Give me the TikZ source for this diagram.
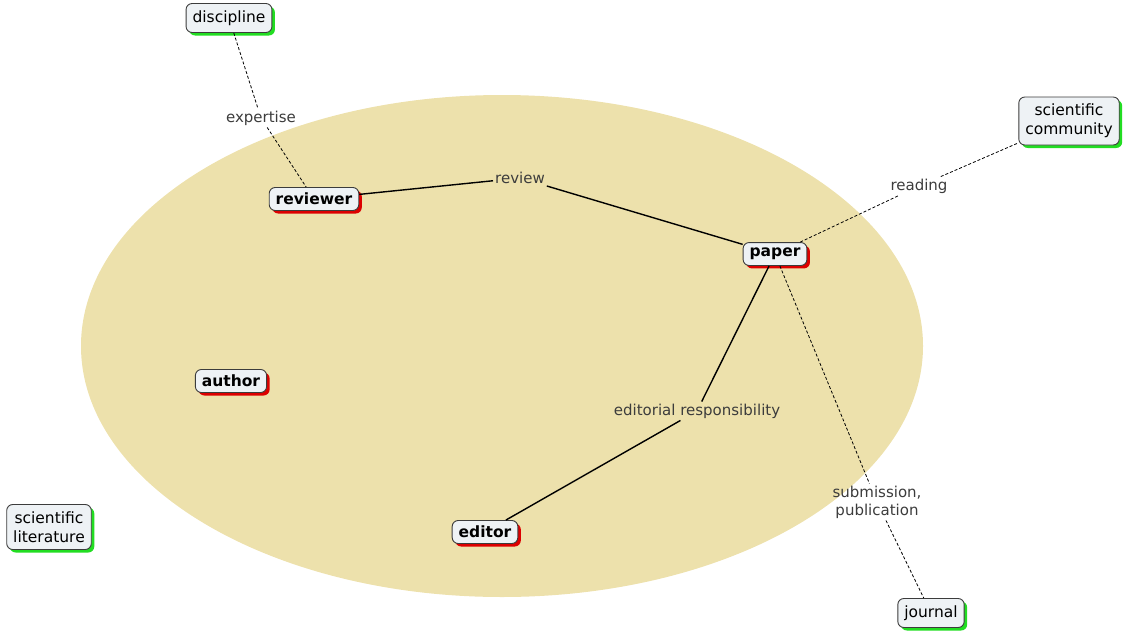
\documentclass[tikz,border=0pt]{standalone}
\usepackage{fontspec}
\setmainfont{DejaVu Sans}
\usetikzlibrary{shadows}
\definecolor{areafill}{RGB}{237,225,172}
\definecolor{boxfill}{RGB}{238,242,245}
\definecolor{boxline}{RGB}{60,60,60}
\definecolor{shgreen}{RGB}{34,221,34}
\definecolor{shred}{RGB}{220,0,0}
\definecolor{labtext}{RGB}{60,60,60}
\tikzset{
  concept/.style={draw=boxline, line width=0.9pt, fill=boxfill, rounded corners=6pt,
    inner xsep=6.5pt, inner ysep=7pt, align=center,
    font=\fontsize{15.5}{19}\selectfont},
  outer/.style={concept, drop shadow={shadow xshift=3pt, shadow yshift=-3pt, fill=shgreen, opacity=1}},
  inner/.style={concept, inner ysep=5.5pt, font=\fontsize{15.5}{19}\selectfont\bfseries,
    drop shadow={shadow xshift=3pt, shadow yshift=-3pt, fill=shred, opacity=1}},
  linklabel/.style={text=labtext, inner sep=2pt, align=center,
    font=\fontsize{15}{18}\selectfont},
  strong/.style={line width=1.4pt, black},
  weak/.style={line width=0.8pt, black, dash pattern=on 3pt off 2pt},
}
\begin{document}
\begin{tikzpicture}[x=1pt, y=-1pt]
  \useasboundingbox (0,0) rectangle (1124,632);
  % the shared area
  \fill[areafill] (502,346) ellipse [x radius=421, y radius=251];

  % concepts
  \node[outer] (discipline) at (229,18) {discipline};
  \node[outer] (community) at (1069,121) {scientific\\community};
  \node[outer] (literature) at (49,527) {scientific\\literature};
  \node[outer] (journal) at (931,613) {journal};
  \node[inner] (reviewer) at (314,199) {reviewer};
  \node[inner] (paper) at (775,254) {paper};
  \node[inner] (author) at (231,381) {author};
  \node[inner] (editor) at (485,532) {editor};

  % link labels
  \node[linklabel] (expertise) at (261,118) {expertise};
  \node[linklabel] (review) at (520,178) {review};
  \node[linklabel] (reading) at (919,186) {reading};
  \node[linklabel] (editorial) at (697,411) {editorial responsibility};
  \node[linklabel] (submission) at (877,502) {submission,\\publication};

  % links
  \draw[weak] (discipline) -- (expertise);
  \draw[weak] (expertise) -- (reviewer);
  \draw[strong] (reviewer) -- (review);
  \draw[strong] (review) -- (paper);
  \draw[weak] (paper) -- (reading);
  \draw[weak] (reading) -- (community);
  \draw[strong] (paper) -- (editorial);
  \draw[strong] (editorial) -- (editor);
  \draw[weak] (paper) -- (submission);
  \draw[weak] (submission) -- (journal);
\end{tikzpicture}
\end{document}
